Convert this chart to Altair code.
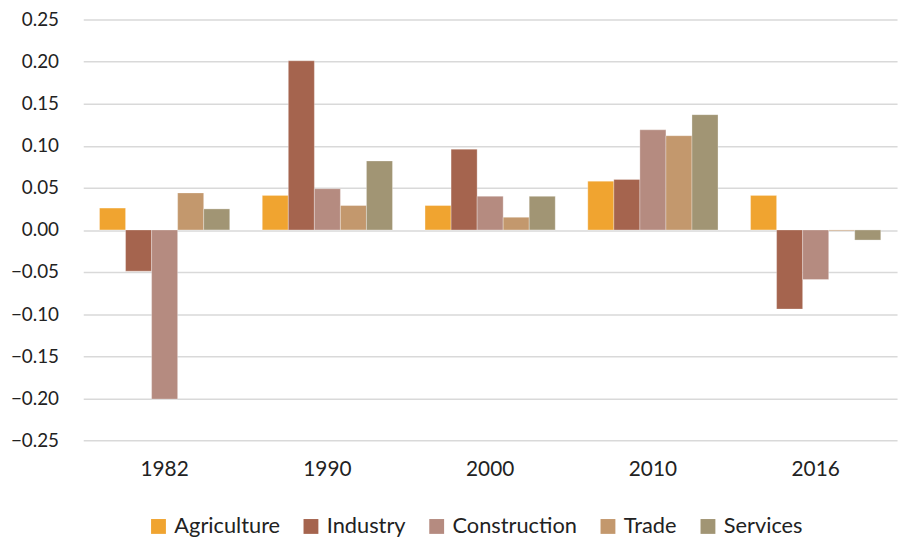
import altair as alt
import pandas as pd

years = ["1982", "1990", "2000", "2010", "2016"]
sectors = ["Agriculture", "Industry", "Construction", "Trade", "Services"]
agriculture = [0.026, 0.041, 0.029, 0.058, 0.041]
industry = [-0.049, 0.201, 0.096, 0.060, -0.094]
construction = [-0.201, 0.049, 0.040, 0.119, -0.059]
trade = [0.044, 0.029, 0.015, 0.112, -0.001]
services = [0.025, 0.082, 0.040, 0.137, -0.012]
colors = ["#F0A430", "#A5644E", "#B58B80", "#C3986D", "#A19574"]

series = [agriculture, industry, construction, trade, services]
rows = []
for s, vals in zip(sectors, series):
    for y, v in zip(years, vals):
        rows.append({"Year": y, "Sector": s, "Value": v})
df = pd.DataFrame(rows)

font = "Lato"
chart = alt.Chart(df).mark_bar(stroke="white", strokeWidth=0.5, strokeOpacity=0.6).encode(
    x=alt.X("Year:N", sort=years, title=None,
            scale=alt.Scale(paddingInner=0.2, paddingOuter=0.1),
            axis=alt.Axis(labelAngle=0, domain=False, ticks=False, labelPadding=19,
                          labelFontSize=21, labelColor="#222222", labelFont=font)),
    xOffset=alt.XOffset("Sector:N", sort=sectors, scale=alt.Scale(paddingInner=0, paddingOuter=0)),
    y=alt.Y("Value:Q", title=None,
            scale=alt.Scale(domain=[-0.25, 0.25], nice=False),
            axis=alt.Axis(values=[-0.25, -0.2, -0.15, -0.1, -0.05, 0, 0.05, 0.1, 0.15, 0.2, 0.25],
                          format=".2f", domain=False, ticks=False, labelPadding=25,
                          labelFontSize=19, labelColor="#222222", labelFont=font,
                          gridColor="#D9D9D9", gridWidth=1.5)),
    color=alt.Color("Sector:N", sort=sectors,
                    scale=alt.Scale(domain=sectors, range=colors),
                    legend=alt.Legend(orient="none", legendX=65, legendY=501,
                                      title=None, direction="horizontal",
                                      symbolType="square", symbolSize=225, symbolStrokeWidth=0,
                                      labelFontSize=22, labelFont=font, labelColor="#222222",
                                      columnPadding=20, labelOffset=5)),
).properties(width=822, height=425, padding={"top": 0, "left": 2, "right": 5, "bottom": 0}).configure_view(stroke=None)

chart.save("out.html", embed_options={"renderer": "svg", "actions": False})
